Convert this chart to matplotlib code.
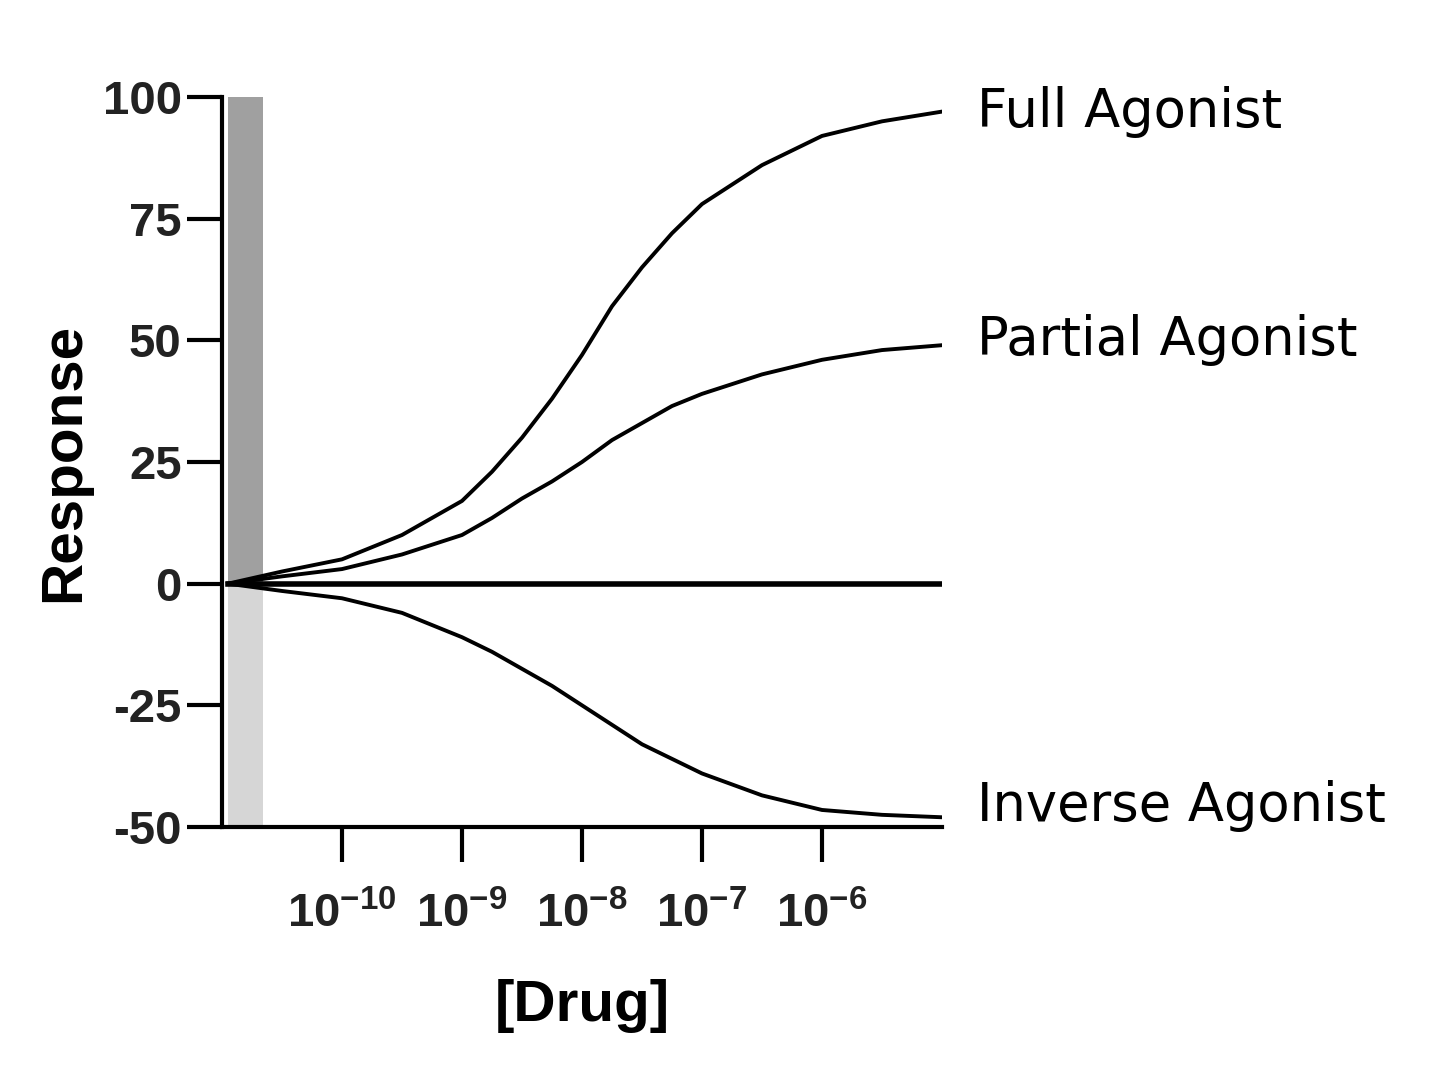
import matplotlib.pyplot as plt
import numpy as np

plt.rcParams['mathtext.fontset'] = 'custom'
plt.rcParams['mathtext.rm'] = 'Liberation Sans:bold'
plt.rcParams['mathtext.default'] = 'rm'
plt.rcParams['axes.unicode_minus'] = False

# log10 concentration points
log_x = [-10.95, -10.5, -10.0, -9.5, -9.0, -8.75, -8.5, -8.25, -8.0, -7.75, -7.5, -7.25, -7.0, -6.5, -6.0, -5.5, -5.0]
full = [0, 2.5, 5, 10, 17, 23, 30, 38, 47, 57, 65, 72, 78, 86, 92, 95, 97]
partial = [0, 1.5, 3, 6, 10, 13.5, 17.5, 21, 25, 29.5, 33, 36.5, 39, 43, 46, 48, 49]
inverse = [0, -1.5, -3, -6, -11, -14, -17.5, -21, -25, -29, -33, -36, -39, -43.5, -46.5, -47.5, -48]
ticks_x = [1e-10, 1e-9, 1e-8, 1e-7, 1e-6]
tick_labels = ['10$^{-10}$', '10$^{-9}$', '10$^{-8}$', '10$^{-7}$', '10$^{-6}$']
yticks = [-50, -25, 0, 25, 50, 75, 100]

x = 10 ** np.array(log_x)

fig = plt.figure(figsize=(14.4, 10.85), dpi=100)
ax = fig.add_axes([222/1440, 1-827/1085, 720/1440, 730/1085])

ax.fill_between([10**-10.95, 10**-10.66], 0, 100, color='#a0a0a0', lw=0)
ax.fill_between([10**-10.95, 10**-10.66], -50, 0, color='#d6d6d6', lw=0)

for ys in (full, partial, inverse):
    ax.plot(x, ys, color='black', lw=2.8, solid_joinstyle='round')
ax.plot([x[0], x[-1]], [0, 0], color='black', lw=4)

ax.set_xscale('log')
ax.set_xlim(1e-11, 1e-5)
ax.set_ylim(-50, 100)
ax.minorticks_off()
ax.set_xticks(ticks_x)
ax.set_xticklabels(tick_labels)
ax.set_yticks(yticks)
ax.set_yticklabels([str(v) for v in yticks])
for s in ['top', 'right']:
    ax.spines[s].set_visible(False)
for s in ['left', 'bottom']:
    ax.spines[s].set_linewidth(3)
ax.tick_params(axis='both', length=25, width=3, direction='out')
ax.tick_params(axis='x', pad=22)
ax.tick_params(axis='y', pad=4)
for lab in ax.get_xticklabels() + ax.get_yticklabels():
    lab.set_fontfamily('Liberation Sans')
    lab.set_fontsize(34)
    lab.set_fontweight('bold')
    lab.set_color('#222222')

ax.set_ylabel('Response', fontsize=42, fontweight='bold', family='Liberation Sans', labelpad=8)
ax.set_xlabel('[Drug]', fontsize=42, fontweight='bold', family='Liberation Sans', labelpad=30)

for name, val, dy in [('Full Agonist', full[-1], 0), ('Partial Agonist', partial[-1], 4),
                      ('Inverse Agonist', inverse[-1], 8)]:
    ax.annotate(name, (1, val), xycoords=('axes fraction', 'data'), xytext=(25, dy),
                textcoords='offset points', fontsize=38, va='center',
                family='DejaVu Sans', clip_on=False)

fig.savefig('out.png', dpi=100)
